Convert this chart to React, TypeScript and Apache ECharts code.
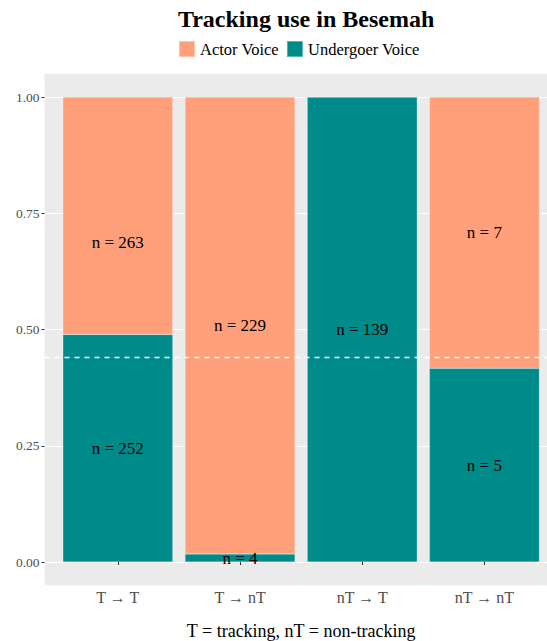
import React, { useEffect, useRef } from "react";
import * as echarts from "echarts";

const categories = ["T \u2192 T", "T \u2192 nT", "nT \u2192 T", "nT \u2192 nT"];
const actorCounts = [263, 229, 0, 7];
const undergoerCounts = [252, 4, 139, 5];
const yTicks = [0, 0.25, 0.5, 0.75, 1];
const seriesNames = ["Actor Voice", "Undergoer Voice"];
const colors = { actor: "#FFA07A", undergoer: "#008B8B" };

const FONT = "Liberation Serif";

export default function App() {
  const ref = useRef<HTMLDivElement>(null);
  useEffect(() => {
    if (!ref.current) return;
    const chart = echarts.init(ref.current, null, { renderer: "svg" });
    const totals = categories.map((_, i) => actorCounts[i] + undergoerCounts[i]);
    const uvData = categories.map((_, i) => ({
      value: undergoerCounts[i] / totals[i],
      n: undergoerCounts[i],
    }));
    const avData = categories.map((_, i) => ({
      value: actorCounts[i] / totals[i],
      n: actorCounts[i],
      ...(i === 0 ? { label: { offset: [0, 27] } } : {}),
    }));
    const sumUV = undergoerCounts.reduce((a, b) => a + b, 0);
    const sumAll = totals.reduce((a, b) => a + b, 0);
    const overall = sumUV / sumAll;

    const panelLeft = 44.5;
    const band = 122.2;
    const y0 = 562;
    const y1 = 97;
    const unit = y0 - y1;
    const panelTop = y1 - 0.05 * unit;
    const panelH = unit * 1.1;
    const panelW = band * 4.2;

    const labelFmt = (p: any) => (p.data.n > 0 ? `n = ${p.data.n}` : "");

    chart.setOption({
      animation: false,
      title: {
        text: "Tracking use in Besemah",
        left: panelLeft + panelW / 2,
        textAlign: "center",
        top: 2,
        textStyle: { fontFamily: FONT, fontSize: 24, fontWeight: "bold", color: "#000" },
      },
      legend: {
        data: seriesNames,
        left: 173,
        top: 35,
        itemWidth: 16,
        itemHeight: 16,
        itemGap: 7,
        icon: "rect",
        textStyle: { fontFamily: FONT, fontSize: 16.5, color: "#000" },
      },
      grid: [
        {
          left: panelLeft,
          top: panelTop,
          width: panelW,
          height: panelH,
          show: true,
          backgroundColor: "#EBEBEB",
          borderWidth: 0,
          outerBoundsMode: "none",
          containLabel: false,
        },
        {
          left: panelLeft + 0.1 * band,
          top: y1,
          width: band * 4,
          height: unit,
          outerBoundsMode: "none",
          containLabel: false,
        },
        {
          left: panelLeft,
          top: y1,
          width: panelW,
          height: unit,
          outerBoundsMode: "none",
          containLabel: false,
        },
      ],
      xAxis: [
        { type: "value", gridIndex: 0, min: 0, max: 1, show: false },
        {
          type: "category",
          gridIndex: 1,
          data: categories,
          offset: panelTop + panelH - y0,
          axisLine: { show: false },
          axisTick: { show: true, alignWithLabel: true, length: 3, lineStyle: { color: "#333" } },
          axisLabel: { color: "#4D4D4D", fontSize: 16, fontFamily: FONT, margin: 4 },
          name: "T = tracking, nT = non-tracking",
          nameLocation: "middle",
          nameGap: 37,
          nameTextStyle: { color: "#000", fontSize: 18, fontFamily: FONT },
        },
        { type: "value", gridIndex: 2, min: 0, max: 1, show: false },
      ],
      yAxis: [
        { type: "value", gridIndex: 0, min: 0, max: 1, show: false },
        { type: "value", gridIndex: 1, min: 0, max: 1, show: false },
        {
          type: "value",
          gridIndex: 2,
          min: yTicks[0],
          max: yTicks[yTicks.length - 1],
          interval: 0.25,
          axisLine: { show: false },
          axisTick: { show: true, length: 3, lineStyle: { color: "#333" } },
          axisLabel: {
            color: "#4D4D4D",
            fontSize: 13.5,
            fontFamily: FONT,
            margin: 5,
            formatter: (v: number) => v.toFixed(2),
          },
          splitLine: { show: true, lineStyle: { color: "#FFFFFF", width: 1.1 } },
        },
      ],
      series: [
        {
          name: seriesNames[1],
          type: "bar",
          xAxisIndex: 1,
          yAxisIndex: 1,
          stack: "s",
          barWidth: "90%",
          data: uvData,
          itemStyle: { color: colors.undergoer, borderColor: "rgba(255,255,255,0.35)", borderWidth: 0.5 },
          label: {
            show: true,
            position: "inside",
            formatter: labelFmt,
            color: "#000",
            fontSize: 17,
            fontFamily: FONT,
          },
        },
        {
          name: seriesNames[0],
          type: "bar",
          xAxisIndex: 1,
          yAxisIndex: 1,
          stack: "s",
          barWidth: "90%",
          data: avData,
          itemStyle: { color: colors.actor, borderColor: "rgba(255,255,255,0.35)", borderWidth: 0.5 },
          label: {
            show: true,
            position: "inside",
            formatter: labelFmt,
            color: "#000",
            fontSize: 17,
            fontFamily: FONT,
          },
        },
        {
          type: "line",
          xAxisIndex: 2,
          yAxisIndex: 2,
          data: [],
          z: 10,
          markLine: {
            silent: true,
            symbol: "none",
            label: { show: false },
            lineStyle: { color: "#FFFFFF", type: [5, 5], width: 1.3 },
            data: [{ yAxis: overall }],
          },
        },
      ],
    });
    return () => chart.dispose();
  }, []);
  return (
    <div
      ref={ref}
      style={{ position: "absolute", left: 0, top: 0, width: 547, height: 641, background: "#fff" }}
    />
  );
}
